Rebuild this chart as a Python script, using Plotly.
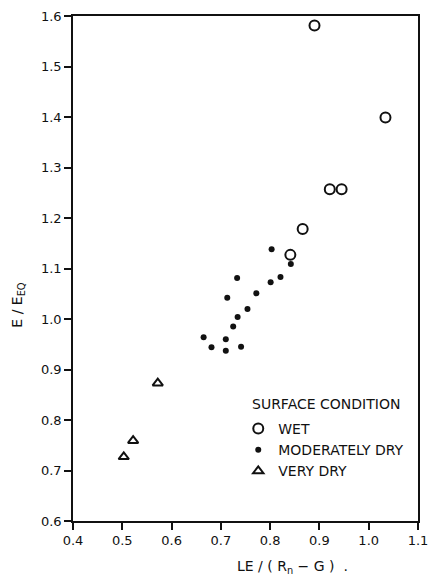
import plotly.graph_objects as go

# Data
wet_x = [0.890, 1.034, 0.921, 0.945, 0.866, 0.841]
wet_y = [1.581, 1.399, 1.257, 1.257, 1.178, 1.127]

mod_x = [0.803, 0.842, 0.733, 0.821, 0.801, 0.713, 0.772, 0.754, 0.734, 0.725,
         0.665, 0.710, 0.681, 0.710, 0.741]
mod_y = [1.138, 1.109, 1.081, 1.083, 1.073, 1.042, 1.051, 1.020, 1.004, 0.985,
         0.964, 0.960, 0.944, 0.937, 0.945]

vdry_x = [0.503, 0.522, 0.572]
vdry_y = [0.727, 0.759, 0.873]

x_ticks = [0.4, 0.5, 0.6, 0.7, 0.8, 0.9, 1.0, 1.1]
y_ticks = [0.6, 0.7, 0.8, 0.9, 1.0, 1.1, 1.2, 1.3, 1.4, 1.5, 1.6]

FONT = "DejaVu Sans"
INK = "#111111"

fig = go.Figure()
fig.add_trace(go.Scatter(
    x=wet_x, y=wet_y, mode="markers", name="WET",
    marker=dict(symbol="circle-open", size=10, color=INK, line=dict(width=2, color=INK))))
fig.add_trace(go.Scatter(
    x=mod_x, y=mod_y, mode="markers", name="MODERATELY DRY",
    marker=dict(symbol="circle", size=6, color=INK)))
fig.add_trace(go.Scatter(
    x=vdry_x, y=vdry_y, mode="markers", name="VERY DRY",
    marker=dict(symbol="triangle-up-open", size=9, color=INK, line=dict(width=2, color=INK))))

axis_common = dict(
    showgrid=False, zeroline=False, showline=True, linecolor=INK, linewidth=1.5,
    mirror=True, ticks="outside", ticklen=7, tickwidth=1.5, tickcolor=INK,
    tickfont=dict(family=FONT, size=13, color=INK), tickformat=".1f",
)

fig.update_xaxes(range=[0.4, 1.1], tickvals=x_ticks, **axis_common)
fig.update_yaxes(range=[0.6, 1.6], tickvals=y_ticks, **axis_common)

fig.update_layout(
    width=437, height=576,
    margin=dict(l=73, r=9, t=16, b=55),
    paper_bgcolor="white", plot_bgcolor="white",
    font=dict(family=FONT, color=INK),
    showlegend=True,
    legend=dict(
        x=0.479, y=0.214, xanchor="left", yanchor="top",
        bgcolor="rgba(0,0,0,0)",
        font=dict(family=FONT, size=14, color=INK),
    ),
    annotations=[
        dict(text="SURFACE CONDITION", xref="paper", yref="paper",
             x=(255 - 73) / 355, y=(521 - 404) / 505, showarrow=False,
             font=dict(family=FONT, size=14, color=INK), xanchor="left", yanchor="middle"),
        dict(text="E / E<sub>EQ</sub>", xref="paper", yref="paper",
             x=-0.16, y=0.428, textangle=-90, showarrow=False,
             font=dict(family=FONT, size=14, color=INK), xanchor="center", yanchor="middle"),
        dict(text="LE / ( R<sub>n</sub> − G )  .", xref="paper", yref="paper",
             x=0.635, y=-0.091, showarrow=False,
             font=dict(family=FONT, size=14, color=INK), xanchor="center", yanchor="middle"),
    ],
)

fig.write_html("out.html")
